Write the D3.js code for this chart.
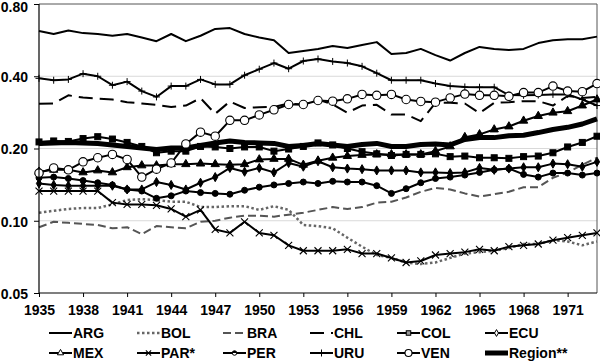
<!DOCTYPE html>
<html>
<head>
<meta charset="utf-8">
<script src="https://cdn.jsdelivr.net/npm/d3@7/dist/d3.min.js"></script>
<style>
  body { margin: 0; background: #fff; }
  svg text { font-family: "Liberation Sans", Arial, sans-serif; font-weight: bold; fill: #000; }
</style>
</head>
<body>
<div id="chart"></div>
<script>
const years = [1935, 1936, 1937, 1938, 1939, 1940, 1941, 1942, 1943, 1944,
  1945, 1946, 1947, 1948, 1949, 1950, 1951, 1952, 1953, 1954,
  1955, 1956, 1957, 1958, 1959, 1960, 1961, 1962, 1963, 1964,
  1965, 1966, 1967, 1968, 1969, 1970, 1971, 1972, 1973];
const xTickYears = [1935, 1938, 1941, 1944, 1947, 1950, 1953, 1956, 1959, 1962, 1965, 1968, 1971];
const yTicks = [0.05, 0.10, 0.20, 0.40, 0.80];
const gridTicks = [0.10, 0.20, 0.40];

const ARG = [0.618, 0.60, 0.62, 0.605, 0.60, 0.59, 0.60, 0.58, 0.56, 0.60,
  0.56, 0.59, 0.63, 0.635, 0.60, 0.58, 0.565, 0.50, 0.51, 0.52,
  0.535, 0.525, 0.54, 0.555, 0.495, 0.50, 0.52, 0.49, 0.465, 0.50,
  0.53, 0.52, 0.515, 0.52, 0.55, 0.565, 0.57, 0.57, 0.585];
const BOL = [0.108, 0.110, 0.112, 0.113, 0.113, 0.117, 0.122, 0.123, 0.122, 0.120,
  0.120, 0.114, 0.114, 0.115, 0.115, 0.111, 0.115, 0.111, 0.096, 0.095,
  0.093, 0.085, 0.078, 0.072, 0.070, 0.067, 0.066, 0.067, 0.070, 0.073,
  0.074, 0.075, 0.077, 0.080, 0.080, 0.083, 0.082, 0.079, 0.082];
const BRA = [0.094, 0.099, 0.098, 0.097, 0.096, 0.093, 0.094, 0.088, 0.095, 0.094,
  0.093, 0.099, 0.100, 0.103, 0.105, 0.105, 0.104, 0.106, 0.108, 0.111,
  0.114, 0.112, 0.114, 0.119, 0.120, 0.125, 0.132, 0.137, 0.135, 0.130,
  0.126, 0.129, 0.132, 0.138, 0.138, 0.151, 0.159, 0.171, 0.183];
const CHL = [0.307, 0.308, 0.333, 0.326, 0.323, 0.320, 0.312, 0.308, 0.304, 0.298,
  0.302, 0.324, 0.279, 0.314, 0.295, 0.297, 0.298, 0.308, 0.305, 0.320,
  0.305, 0.282, 0.302, 0.304, 0.277, 0.277, 0.260, 0.310, 0.310, 0.308,
  0.281, 0.310, 0.312, 0.315, 0.315, 0.302, 0.331, 0.325, 0.328];
const COL = [0.213, 0.215, 0.214, 0.220, 0.224, 0.219, 0.212, 0.204, 0.192, 0.195,
  0.195, 0.204, 0.203, 0.200, 0.203, 0.203, 0.195, 0.199, 0.204, 0.211,
  0.207, 0.200, 0.194, 0.190, 0.187, 0.189, 0.189, 0.190, 0.185, 0.186,
  0.183, 0.183, 0.182, 0.185, 0.186, 0.192, 0.203, 0.212, 0.225];
const ECU = [0.143, 0.141, 0.140, 0.140, 0.140, 0.140, 0.135, 0.135, 0.145, 0.141,
  0.135, 0.144, 0.152, 0.166, 0.160, 0.166, 0.159, 0.174, 0.168, 0.177,
  0.167, 0.165, 0.164, 0.162, 0.162, 0.162, 0.159, 0.159, 0.158, 0.159,
  0.166, 0.163, 0.165, 0.167, 0.167, 0.173, 0.172, 0.168, 0.176];
const MEX = [0.160, 0.163, 0.163, 0.159, 0.162, 0.159, 0.167, 0.170, 0.170, 0.172,
  0.172, 0.173, 0.172, 0.171, 0.172, 0.180, 0.181, 0.181, 0.171, 0.178,
  0.183, 0.186, 0.188, 0.189, 0.189, 0.189, 0.189, 0.195, 0.204, 0.223,
  0.229, 0.240, 0.247, 0.261, 0.273, 0.282, 0.286, 0.302, 0.320];
const PAR = [0.133, 0.133, 0.133, 0.133, 0.133, 0.119, 0.117, 0.117, 0.116, 0.112,
  0.104, 0.111, 0.092, 0.089, 0.099, 0.089, 0.087, 0.079, 0.075, 0.075,
  0.075, 0.076, 0.073, 0.073, 0.070, 0.067, 0.068, 0.072, 0.073, 0.074,
  0.076, 0.075, 0.078, 0.079, 0.080, 0.083, 0.085, 0.087, 0.089];
const PER = [0.151, 0.152, 0.150, 0.147, 0.144, 0.141, 0.135, 0.133, 0.124, 0.127,
  0.133, 0.131, 0.130, 0.129, 0.134, 0.138, 0.141, 0.143, 0.145, 0.143,
  0.146, 0.145, 0.145, 0.140, 0.130, 0.136, 0.144, 0.150, 0.152, 0.155,
  0.159, 0.163, 0.165, 0.156, 0.152, 0.158, 0.158, 0.155, 0.158];
const URU = [0.392, 0.385, 0.388, 0.410, 0.400, 0.367, 0.380, 0.347, 0.328, 0.364,
  0.364, 0.388, 0.370, 0.370, 0.404, 0.428, 0.454, 0.430, 0.463, 0.472,
  0.461, 0.454, 0.440, 0.412, 0.385, 0.385, 0.385, 0.373, 0.364, 0.361,
  0.360, 0.360, 0.334, 0.333, 0.334, 0.336, 0.336, 0.320, 0.302];
const VEN = [0.158, 0.166, 0.163, 0.176, 0.183, 0.189, 0.180, 0.152, 0.164, 0.174,
  0.209, 0.234, 0.225, 0.262, 0.262, 0.276, 0.290, 0.305, 0.305, 0.317,
  0.315, 0.322, 0.336, 0.333, 0.336, 0.320, 0.314, 0.312, 0.325, 0.337,
  0.333, 0.333, 0.330, 0.342, 0.342, 0.364, 0.347, 0.345, 0.373];
const REGION = [0.210, 0.211, 0.212, 0.211, 0.210, 0.207, 0.204, 0.201, 0.198, 0.201,
  0.201, 0.206, 0.211, 0.215, 0.212, 0.211, 0.210, 0.204, 0.206, 0.210,
  0.207, 0.204, 0.208, 0.210, 0.204, 0.204, 0.208, 0.209, 0.207, 0.218,
  0.222, 0.222, 0.226, 0.227, 0.233, 0.240, 0.245, 0.253, 0.266];

const series = [
  { name: 'ARG', values: ARG, color: '#000', width: 2, dash: null, marker: null },
  { name: 'BOL', values: BOL, color: '#666', width: 2.5, dash: '2.5,2.5', marker: null },
  { name: 'BRA', values: BRA, color: '#555', width: 2, dash: '8,4', marker: null },
  { name: 'CHL', values: CHL, color: '#000', width: 2, dash: '14,7', marker: null },
  { name: 'COL', values: COL, color: '#000', width: 2, dash: null, marker: 'square' },
  { name: 'ECU', values: ECU, color: '#000', width: 2, dash: null, marker: 'diamond' },
  { name: 'MEX', values: MEX, color: '#000', width: 2, dash: null, marker: 'triangle' },
  { name: 'PAR*', values: PAR, color: '#000', width: 2, dash: null, marker: 'cross' },
  { name: 'PER', values: PER, color: '#000', width: 2, dash: null, marker: 'dot' },
  { name: 'URU', values: URU, color: '#000', width: 2, dash: null, marker: 'plus' },
  { name: 'VEN', values: VEN, color: '#000', width: 2, dash: null, marker: 'ring' },
  { name: 'Region**', values: REGION, color: '#000', width: 5, dash: null, marker: null }
];

const width = 600;
const height = 362;
const plot = { left: 39, right: 597, top: 4, bottom: 293 };

const svg = d3.select('#chart').append('svg')
  .attr('width', width)
  .attr('height', height);

const x = d3.scaleLinear()
  .domain([years[0], years[years.length - 1]])
  .range([plot.left, plot.right]);
const y = d3.scaleLog()
  .domain([0.05, 0.8])
  .range([plot.bottom, plot.top]);

// gridlines
svg.append('g')
  .selectAll('line')
  .data(gridTicks)
  .enter().append('line')
    .attr('x1', plot.left)
    .attr('x2', plot.right)
    .attr('y1', d => y(d))
    .attr('y2', d => y(d))
    .attr('stroke', '#d9d9d9')
    .attr('stroke-width', 1);

// plot frame (top + right)
svg.append('path')
  .attr('d', `M${plot.left},${plot.top}H${plot.right}V${plot.bottom}`)
  .attr('fill', 'none')
  .attr('stroke', '#555')
  .attr('stroke-width', 1);

const drawMarker = function(g, type, cx, cy, legend) {
  const k = legend ? 0.75 : 1;
  const fill = legend ? '#fff' : '#000';
  if (type === 'square') {
    const s = 6 * k;
    g.append('rect').attr('x', cx - s / 2).attr('y', cy - s / 2).attr('width', s).attr('height', s)
      .attr('fill', legend ? '#999' : '#000').attr('stroke', '#000').attr('stroke-width', 1);
  } else if (type === 'diamond') {
    g.append('path').attr('d', d3.symbol(d3.symbolDiamond, 24 * k * k)())
      .attr('transform', `translate(${cx},${cy})`)
      .attr('fill', fill).attr('stroke', '#000').attr('stroke-width', 1);
  } else if (type === 'triangle') {
    g.append('path').attr('d', d3.symbol(d3.symbolTriangle, 30 * k * k)())
      .attr('transform', `translate(${cx},${cy})`)
      .attr('fill', fill).attr('stroke', '#000').attr('stroke-width', 1);
  } else if (type === 'cross') {
    const s = 3.5 * k;
    g.append('path').attr('d', `M${cx - s},${cy - s}L${cx + s},${cy + s}M${cx - s},${cy + s}L${cx + s},${cy - s}`)
      .attr('stroke', '#000').attr('stroke-width', 1.1);
  } else if (type === 'dot') {
    const r = 3 * k;
    g.append('circle').attr('cx', cx).attr('cy', cy).attr('r', r)
      .attr('fill', legend ? '#fff' : '#000').attr('stroke', '#000').attr('stroke-width', 1);
    if (legend) {
      g.append('path').attr('d', `M${cx - r},${cy}A${r},${r} 0 0 1 ${cx + r},${cy}Z`).attr('fill', '#000');
    }
  } else if (type === 'plus') {
    const s = 3.5;
    g.append('path').attr('d', `M${cx},${cy - s}V${cy + s}M${cx - s},${cy}H${cx + s}`)
      .attr('stroke', '#000').attr('stroke-width', 1);
  } else if (type === 'ring') {
    g.append('circle').attr('cx', cx).attr('cy', cy).attr('r', legend ? 3.5 : 4.2)
      .attr('fill', '#fff').attr('stroke', '#000').attr('stroke-width', 1.1);
  }
};

const line = d3.line()
  .x((d, i) => x(years[i]))
  .y(d => y(d));

// all lines first, then markers on top
const lines = svg.append('g').attr('class', 'lines');
series.forEach((s) => {
  lines.append('path')
    .attr('d', line(s.values))
    .attr('fill', 'none')
    .attr('stroke', s.color)
    .attr('stroke-width', s.width)
    .attr('stroke-dasharray', s.dash)
    .attr('stroke-linejoin', 'round');
});
const marks = svg.append('g').attr('class', 'markers');
series.forEach((s) => {
  if (!s.marker) {
    return;
  }
  s.values.forEach((v, i) => drawMarker(marks, s.marker, x(years[i]), y(v), false));
});

// axes
const yAxis = svg.append('g')
  .attr('transform', `translate(${plot.left},0)`)
  .call(d3.axisLeft(y).tickValues(yTicks).tickFormat(d3.format('.2f')).tickSize(5).tickPadding(6));
const xAxis = svg.append('g')
  .attr('transform', `translate(0,${plot.bottom})`)
  .call(d3.axisBottom(x).tickValues(xTickYears).tickFormat(d3.format('d')).tickSize(4).tickPadding(8));
[yAxis, xAxis].forEach((a) => {
  a.select('.domain').attr('stroke', '#000').attr('stroke-width', 1.2);
  a.selectAll('.tick line').attr('stroke', '#000');
  a.selectAll('.tick text').attr('font-size', 14).attr('font-family', null);
});
// top label would be clipped at the edge: nudge it down like the original
yAxis.selectAll('.tick text')
  .attr('dy', d => d === 0.8 ? '0.55em' : '0.38em');
// axisLeft domain has outer ticks; keep it flat
yAxis.select('.domain').attr('d', `M0,${plot.top}V${plot.bottom}`);
xAxis.select('.domain').attr('d', `M${plot.left},0H${plot.right}`);

// legend
const legendCols = [49, 137, 223, 310, 397, 485];
const legendRows = [333, 353];
const legend = svg.append('g').attr('class', 'legend');
series.forEach((s, i) => {
  const lx = legendCols[i % 6];
  const ly = legendRows[Math.floor(i / 6)];
  const g = legend.append('g');
  g.append('line')
    .attr('x1', lx).attr('x2', lx + 23)
    .attr('y1', ly).attr('y2', ly)
    .attr('stroke', s.color)
    .attr('stroke-width', s.width)
    .attr('stroke-dasharray', s.dash);
  if (s.marker) {
    drawMarker(g, s.marker, lx + 11.5, ly, true);
  }
  g.append('text')
    .attr('x', lx + 24)
    .attr('y', ly)
    .attr('dy', '0.36em')
    .attr('font-size', 14)
    .text(s.name);
});
</script>
</body>
</html>
